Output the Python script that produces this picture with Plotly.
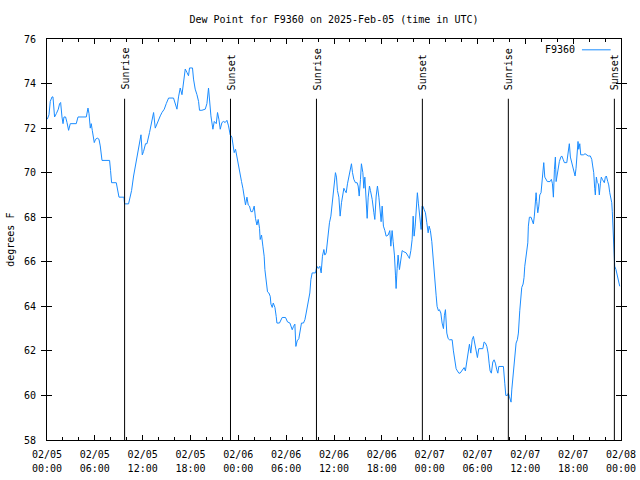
import pandas as pd
import plotly.graph_objects as go

# ---- data (hours after 2025-02-05 00:00 UTC, dew point in °F) ----
hours = [
    0.04, 0.25, 0.41, 0.63, 0.75, 0.83, 0.95, 1.17, 1.42, 1.58, 1.71, 1.88, 2.01, 2.13, 2.33, 2.51, 2.71, 2.92,
    3.67, 3.89, 4.93, 5.14, 5.27, 5.43, 5.55, 5.68, 5.93, 6.09, 6.31, 6.52, 6.68, 6.90, 7.85, 7.97, 8.10, 8.69,
    8.90, 9.03, 9.65, 9.73, 10.23, 10.44, 10.61, 10.86, 11.03, 11.20, 11.28, 11.45, 11.61, 11.79, 11.95, 12.11,
    12.36, 12.54, 12.86, 13.16, 13.37, 13.58, 13.79, 13.99, 14.21, 14.42, 14.71, 14.96, 15.25, 15.87, 16.09,
    16.30, 16.50, 16.71, 16.93, 17.13, 17.34, 17.55, 17.75, 17.88, 18.25, 18.38, 18.59, 18.81, 19.01, 19.13,
    19.43, 19.85, 20.06, 20.26, 20.39, 20.56, 20.81, 20.98, 21.23, 21.39, 21.56, 21.73, 21.94, 22.14, 22.35,
    22.57, 22.77, 22.98, 23.19, 23.27, 23.48, 23.65, 23.77, 23.90, 24.07, 24.24, 24.40, 24.57, 24.74, 24.90,
    25.08, 25.24, 25.40, 25.58, 25.78, 25.99, 26.15, 26.33, 26.49, 26.66, 26.74, 26.91, 27.08, 27.24, 27.33,
    27.50, 27.66, 27.83, 28.00, 28.09, 28.25, 28.38, 28.59, 28.75, 28.84, 29.16, 29.34, 29.50, 29.92, 30.09,
    30.17, 30.47, 30.59, 30.76, 30.92, 31.09, 31.22, 31.38, 31.59, 31.76, 31.92, 32.17, 32.35, 32.51, 32.67,
    32.85, 32.97, 33.10, 33.26, 33.68, 33.85, 34.02, 34.23, 34.39, 34.55, 34.73, 34.85, 35.02, 35.18, 35.27,
    35.43, 35.61, 35.77, 35.90, 36.02, 36.18, 36.31, 36.43, 36.61, 36.77, 36.94, 37.11, 37.24, 37.36, 37.53,
    37.69, 37.86, 38.03, 38.19, 38.32, 38.49, 38.69, 38.90, 39.03, 39.16, 39.32, 39.44, 39.62, 39.74, 39.87,
    40.00, 40.16, 40.29, 40.45, 40.57, 40.79, 41.00, 41.12, 41.29, 41.45, 41.63, 41.79, 41.91, 42.04, 42.20,
    42.38, 42.54, 42.79, 43.00, 43.13, 43.29, 43.42, 43.58, 43.71, 43.79, 43.92, 44.04, 44.21, 44.38, 44.55,
    44.76, 45.05, 45.30, 45.46, 45.64, 45.80, 45.93, 46.05, 46.18, 46.34, 46.46, 46.59, 46.76, 46.93, 47.05,
    47.14, 47.30, 47.47, 47.64, 47.81, 47.93, 48.09, 48.27, 48.40, 48.56, 48.68, 48.81, 48.93, 49.10, 49.22,
    49.40, 49.56, 49.73, 49.85, 49.98, 50.15, 50.32, 50.48, 50.82, 50.98, 51.15, 51.32, 51.48, 51.66, 51.82,
    51.98, 52.16, 52.32, 52.48, 52.66, 52.82, 52.99, 53.16, 53.33, 53.49, 53.67, 53.83, 53.99, 54.16, 54.33,
    54.67, 54.83, 55.00, 55.17, 55.33, 55.46, 55.58, 55.74, 55.92, 56.08, 56.24, 56.42, 56.55, 56.67, 57.25,
    57.42, 57.55, 57.75, 57.87, 58.00, 58.12, 58.21, 58.30, 58.42, 58.55, 58.67, 58.84, 59.00, 59.13, 59.30,
    59.43, 59.55, 59.72, 59.84, 59.93, 60.06, 60.18, 60.31, 60.38, 60.51, 60.72, 60.88, 61.01, 61.13, 61.26,
    61.35, 61.43, 61.56, 61.69, 61.81, 61.97, 62.10, 62.22, 62.31, 62.44, 62.60, 62.76, 63.10, 63.27, 63.40,
    63.52, 63.65, 63.77, 63.86, 63.98, 64.15, 64.27, 64.45, 64.57, 64.74, 64.90, 65.20, 65.32, 65.45, 65.52,
    65.65, 65.82, 65.95, 66.07, 66.24, 66.36, 66.49, 66.61, 66.70, 66.83, 66.95, 67.28, 67.49, 67.70, 67.90,
    68.15, 68.33, 68.45, 68.58, 68.70, 68.78, 68.91, 69.03, 69.16, 69.28, 69.41, 69.53, 69.66, 69.78, 69.91,
    70.04, 70.16, 70.34, 70.46, 70.59, 70.71, 70.84, 70.91, 71.00, 71.09, 71.16, 71.21, 71.37, 71.50, 71.62,
    71.75, 71.84,
]
dewpoint = [
    72.4, 72.6, 73.2, 73.4, 73.4, 72.8, 72.5, 72.65, 72.85, 73.1, 73.15, 72.5, 72.2, 72.5, 72.5, 72.25, 71.9, 72.2,
    72.2, 72.5, 72.5, 72.9, 72.65, 72.0, 72.2, 71.9, 71.35, 71.5, 71.55, 71.5, 71.2, 70.55, 70.55, 70.1, 69.55, 69.55,
    69.1, 68.9, 68.9, 68.6, 68.6, 68.9, 69.2, 69.85, 70.2, 70.4, 70.75, 71.0, 71.35, 71.7, 70.8, 70.95,
    71.3, 71.3, 71.8, 72.3, 72.7, 72.0, 72.2, 72.4, 72.55, 72.7, 72.85, 73.1, 73.35, 73.35, 73.1,
    72.85, 73.4, 73.8, 73.5, 74.05, 74.65, 74.5, 74.35, 74.7, 74.7, 74.2, 73.75, 73.5, 73.2, 72.8,
    72.8, 72.85, 73.1, 73.8, 73.1, 72.55, 71.95, 72.3, 72.2, 72.7, 72.4, 71.95, 72.25, 72.3, 72.25,
    72.35, 72.1, 71.7, 71.6, 71.35, 70.9, 71.05, 70.8, 70.45, 70.2, 69.9, 69.6, 69.3, 68.95, 68.55,
    68.9, 68.55, 68.5, 68.25, 68.25, 68.5, 67.95, 67.65, 67.9, 67.5, 67.0, 67.2, 66.7, 66.25, 65.65,
    65.1, 64.65, 64.6, 64.45, 64.1, 63.95, 64.15, 63.95, 63.55, 63.25, 63.25, 63.4, 63.5, 63.5, 63.4,
    63.3, 63.25, 63.1, 62.95, 63.1, 63.2, 62.2, 62.45, 62.55, 62.9, 63.25, 63.25, 63.4, 63.7, 64.0,
    64.2, 64.6, 65.2, 65.5, 65.5, 65.8, 65.7, 65.8, 65.5, 66.25, 66.55, 66.3, 66.4, 67.05, 67.4,
    67.75, 68.05, 68.6, 69.0, 69.5, 70.0, 69.8, 69.2, 68.9, 68.05, 68.65, 69.1, 69.3, 69.2, 69.1,
    69.5, 69.8, 70.15, 70.4, 70.0, 69.7, 69.55, 69.55, 69.4, 68.95, 69.7, 70.4, 70.0, 69.3, 69.8,
    69.0, 67.95, 68.9, 69.4, 69.2, 68.8, 68.2, 67.9, 68.95, 69.4, 68.9, 68.2, 67.8, 68.5, 67.6,
    67.4, 67.15, 67.2, 67.4, 66.7, 67.4, 66.9, 66.3, 65.4, 64.8, 65.7, 66.3, 65.65, 66.2, 66.5,
    66.45, 66.4, 66.25, 66.15, 66.5, 67.0, 68.05, 67.15, 67.6, 68.6, 69.1, 68.6, 68.1, 67.45, 68.5,
    68.5, 68.35, 68.2, 67.75, 67.3, 67.6, 67.4, 66.9, 66.2, 65.55, 65.05, 64.5, 64.0, 63.8, 63.85,
    63.7, 63.25, 63.0, 63.6, 63.85, 62.8, 62.55, 62.5, 62.5, 62.0, 61.5, 61.2, 61.1, 61.0, 61.0,
    61.1, 61.2, 61.25, 61.1, 61.6, 62.05, 62.3, 61.9, 62.5, 62.65, 62.3, 61.9, 61.7, 62.1, 62.1,
    62.1, 62.4, 62.35, 62.2, 61.9, 61.45, 61.1, 61.0, 61.5, 61.6, 61.45, 61.15, 61.0, 61.3, 61.3,
    60.55, 60.0, 60.0, 60.1, 59.95, 59.8, 59.7, 60.25, 60.7, 61.3, 61.75, 62.35, 62.5, 62.8, 63.8,
    64.4, 64.85, 65.0, 65.3, 65.8, 66.25, 66.4, 66.85, 67.6, 68.0, 68.0, 67.8, 67.7, 68.05, 68.7,
    69.1, 68.7, 68.2, 68.5, 69.0, 69.1, 69.7, 70.05, 70.45, 69.8, 69.7, 69.6, 69.6, 69.7, 69.5,
    68.9, 70.15, 70.7, 69.6, 69.85, 70.3, 70.5, 70.7, 70.75, 70.6, 70.45, 70.45, 70.7, 71.05, 71.3,
    70.7, 70.45, 70.15, 70.0, 69.85, 70.2, 70.9, 71.4, 71.05, 71.3, 70.8, 70.8, 70.85, 70.8, 70.75,
    70.75, 70.6, 70.3, 70.0, 69.3, 69.0, 69.8, 69.55, 69.5, 69.0, 69.5, 69.8, 69.7, 69.6, 69.55,
    69.8, 69.85, 69.6, 69.45, 69.1, 68.9, 68.65, 68.25, 67.5, 67.2, 66.85, 65.8, 65.65, 65.4, 65.2,
    65.0, 64.9,
]
sun_times = ["2025-02-05 09:44", "2025-02-05 23:01", "2025-02-06 09:48",
             "2025-02-06 23:05", "2025-02-07 09:52", "2025-02-07 23:10"]
sun_labels = ["Sunrise", "Sunset", "Sunrise", "Sunset", "Sunrise", "Sunset"]
y_ticks = [58, 60, 62, 64, 66, 68, 70, 72, 74, 76]
station = "F9360"
title_text = "Dew Point for F9360 on 2025-Feb-05 (time in UTC)"

base = pd.Timestamp("2025-02-05 00:00")
times = base + pd.to_timedelta(hours, unit="h")

FONT = "DejaVu Sans Mono"
LINE_COLOR = "#1a8cff"

fig = go.Figure()
fig.add_trace(go.Scatter(x=times, y=dewpoint, mode="lines", name=station,
                         line=dict(color=LINE_COLOR, width=1), showlegend=False))
# invisible helper trace so the second (time-of-day label) x axis is drawn
fig.add_trace(go.Scatter(x=times[:1], y=dewpoint[:1], xaxis="x2", mode="markers",
                         marker=dict(opacity=0), showlegend=False, hoverinfo="skip"))

shapes = []
annotations = []
for t, lab in zip(sun_times, sun_labels):
    shapes.append(dict(type="line", xref="x", yref="y domain", x0=t, x1=t, y0=0, y1=0.851,
                       line=dict(color="black", width=1)))
    annotations.append(dict(x=t, xref="x", yref="y domain", y=0.868, yanchor="bottom",
                            xanchor="center", xshift=1, text=lab, textangle=-90, showarrow=False,
                            font=dict(family=FONT, size=10, color="black")))

# legend drawn gnuplot-style: text then line sample
annotations.append(dict(x=0.923, y=0.973, xref="paper", yref="paper", xanchor="right",
                        yanchor="middle", text=station, showarrow=False,
                        font=dict(family=FONT, size=10, color="black")))
shapes.append(dict(type="line", xref="paper", yref="paper", x0=0.932, x1=0.982, y0=0.973, y1=0.973,
                   line=dict(color=LINE_COLOR, width=1)))

annotations.append(dict(x=-0.064, y=0.5, xref="paper", yref="paper", text="degrees F",
                        textangle=-90, showarrow=False, xanchor="center", yanchor="middle",
                        font=dict(family=FONT, size=10, color="black")))

fig.update_layout(
    width=640, height=480,
    margin=dict(l=47, r=19, t=39, b=40, autoexpand=False),
    paper_bgcolor="white", plot_bgcolor="white",
    font=dict(family=FONT, size=10, color="black"),
    title=dict(text=title_text, x=0.5, xref="paper", y=0.96, yref="container",
               yanchor="middle", font=dict(family=FONT, size=10, color="black")),
    shapes=shapes, annotations=annotations,
)
x_range = [base, base + pd.Timedelta(hours=72)]
fig.update_layout(
    xaxis=dict(
        range=x_range, type="date", tickformat="%m/%d", dtick=6 * 3600 * 1000, tick0=base,
        ticks="inside", ticklen=5, tickcolor="black", showline=True, linecolor="black",
        linewidth=1, mirror="allticks", showgrid=False, zeroline=False, automargin=False,
        ticklabelstandoff=5,
        minor=dict(dtick=2 * 3600 * 1000, ticks="inside", ticklen=3, tickcolor="black", showgrid=False),
        tickfont=dict(family=FONT, size=10, color="black"),
    ),
    xaxis2=dict(
        range=x_range, type="date", tickformat="%H:%M", dtick=6 * 3600 * 1000, tick0=base,
        overlaying="x", anchor="y", side="bottom", matches="x",
        ticks="", showline=False, showgrid=False, zeroline=False, automargin=False,
        ticklabelstandoff=21,
        tickfont=dict(family=FONT, size=10, color="black"),
    ),
    yaxis=dict(
        range=[58, 76], tickvals=y_ticks, ticktext=[str(v) for v in y_ticks],
        ticks="inside", ticklen=5, tickcolor="black", showline=True, linecolor="black",
        linewidth=1, mirror="allticks", showgrid=False, zeroline=False, automargin=False,
        ticklabelstandoff=8,
        tickfont=dict(family=FONT, size=10, color="black"),
    ),
)

fig.write_html("out.html")
